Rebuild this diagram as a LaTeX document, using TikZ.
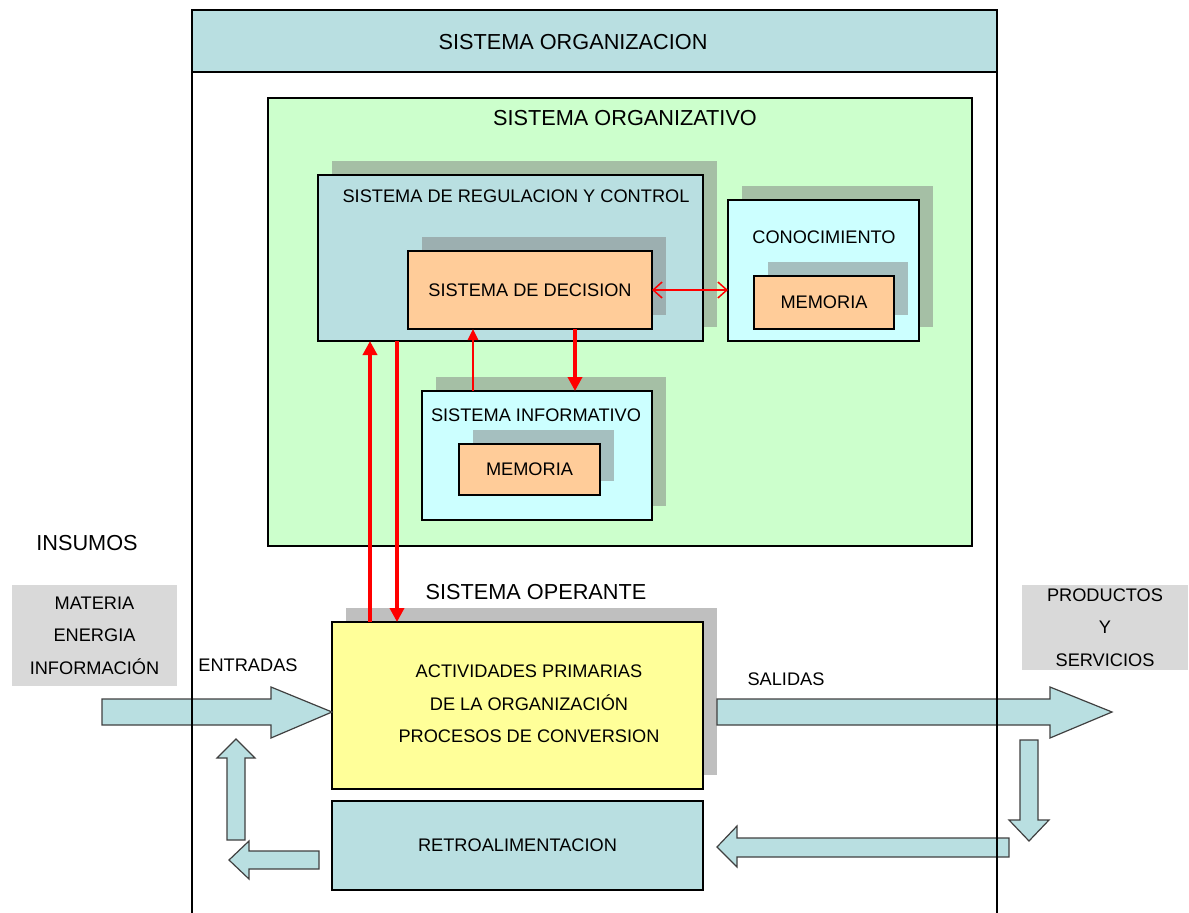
\documentclass[tikz,border=0pt]{standalone}
\usepackage{fontspec}
\setmainfont{Liberation Sans}
\usetikzlibrary{arrows.meta,positioning,shadows,calc}
\definecolor{HeadBlue}{HTML}{B9DFE1}
\definecolor{OrgGreen}{HTML}{CCFFCC}
\definecolor{LightCyan}{HTML}{CCFFFF}
\definecolor{Peach}{HTML}{FFCC99}
\definecolor{PaleYellow}{HTML}{FFFF99}
\definecolor{BoxGray}{HTML}{D9D9D9}

\begin{document}
\begin{tikzpicture}[x=1pt,y=-1pt,>=Latex,
  every node/.style={font=\fontsize{18.2}{22}\selectfont,align=center,inner sep=0pt,outer sep=0pt},
  sysbox/.style={draw,line width=1.5pt,anchor=north west},
  shadowed/.style={general shadow={fill=black!50,fill opacity=0.5,shadow xshift=14pt,shadow yshift=14pt}},
  bigtxt/.style={font=\fontsize{21.7}{26}\selectfont},
  listtxt/.style={font=\fontsize{18.2}{32.5}\selectfont},
  redthick/.style={draw=red,line width=4pt,-{Triangle[length=14pt,width=14pt]}},
  redthin/.style={draw=red,line width=2.5pt,-{Triangle[length=11pt,width=10pt]}},
  redlink/.style={draw=red,line width=1.5pt,{Straight Barb[length=9pt,width=16pt]}-{Straight Barb[length=9pt,width=16pt]}},
  flow/.style={draw=black!75,line width=1.2pt,fill=HeadBlue,line join=miter}]
\useasboundingbox (0,0) rectangle (1189,913);

\node[sysbox,fill=HeadBlue,minimum width=805pt,minimum height=62pt] (orgHead) at (192,10) {};
\node[bigtxt] (orgTitle) at (573,42) {SISTEMA ORGANIZACION};

\node[sysbox,fill=OrgGreen,minimum width=704pt,minimum height=448pt] (organiz) at (268,98) {};
\node[bigtxt] (organizTitle) at (625,118) {SISTEMA ORGANIZATIVO};

\node[sysbox,shadowed,fill=HeadBlue,minimum width=385pt,minimum height=166pt] (regul) at (318,175) {};
\node (regulTitle) at (516,196) {SISTEMA DE REGULACION Y CONTROL};
\node[sysbox,shadowed,fill=Peach,minimum width=244pt,minimum height=78pt] (decis) at (408,251) {SISTEMA DE DECISION};

\node[sysbox,shadowed,fill=LightCyan,minimum width=191pt,minimum height=141pt] (conoc) at (728,200) {};
\node (conocTitle) at (824,237) {CONOCIMIENTO};
\node[sysbox,shadowed,fill=Peach,minimum width=140pt,minimum height=53pt] (memConoc) at (754,276) {MEMORIA};

\node[sysbox,shadowed,fill=LightCyan,minimum width=230pt,minimum height=129pt] (inform) at (422,391) {};
\node (informTitle) at (536,415) {SISTEMA INFORMATIVO};
\node[sysbox,shadowed,fill=Peach,minimum width=141pt,minimum height=51pt] (memInform) at (459,444) {MEMORIA};

\node[bigtxt] (operTitle) at (536,592) {SISTEMA OPERANTE};
\node[sysbox,shadowed,fill=PaleYellow,minimum width=371pt,minimum height=167pt] (oper) at (332,622) {};
\node[listtxt] (operText) at (529,704) {ACTIVIDADES PRIMARIAS\\DE LA ORGANIZACIÓN\\PROCESOS DE CONVERSION};
\node[sysbox,fill=HeadBlue,minimum width=371pt,minimum height=89pt] (retro) at (332,801) {RETROALIMENTACION};

\node[bigtxt] (insumos) at (87,543) {INSUMOS};
\node[anchor=north west,fill=BoxGray,listtxt,minimum width=165pt,minimum height=101pt] (inputs) at (12,585) {MATERIA\\ENERGIA\\INFORMACIÓN};
\node[anchor=north west,fill=BoxGray,listtxt,minimum width=166pt,minimum height=85pt] (outputs) at (1022,585) {PRODUCTOS\\Y\\SERVICIOS};
\node (entradas) at (248,665) {ENTRADAS};
\node (salidas) at (786,679) {SALIDAS};

\draw[flow] (102,699) -- (271,699) -- (271,687) -- (332,712) -- (271,738) -- (271,725) -- (102,725) -- cycle;
\draw[flow] (717,699) -- (1050,699) -- (1050,687) -- (1112,712) -- (1050,738) -- (1050,725) -- (717,725) -- cycle;
\draw[flow] (1020,740) -- (1038,740) -- (1038,820) -- (1049,820) -- (1029,841) -- (1009,820) -- (1020,820) -- cycle;
\draw[flow] (1009,838) -- (737,838) -- (737,826) -- (717,847) -- (737,867) -- (737,857) -- (1009,857) -- cycle;
\draw[flow] (319,851) -- (249,851) -- (249,841) -- (229,860) -- (249,879) -- (249,869) -- (319,869) -- cycle;
\draw[flow] (227,840) -- (227,758) -- (217,758) -- (236,739) -- (255,758) -- (245,758) -- (245,840) -- cycle;

\draw[redthick] ([xshift=38pt]oper.north west) -- ([xshift=52pt]regul.south west);
\draw[redthick] ([xshift=79pt]regul.south west) -- ([xshift=65pt]oper.north west);
\draw[redthin] ([xshift=51pt]inform.north west) -- ([xshift=65pt]decis.south west);
\draw[redthick] ([xshift=167pt]decis.south west) -- ([xshift=153pt]inform.north west);
\draw[redlink] (decis.east) -- (decis.east -| conoc.west);

\coordinate (frameL) at (192,913);
\coordinate (frameR) at (997,913);
\draw[line width=1.5pt] (orgHead.south west) -- (frameL);
\draw[line width=1.5pt] (orgHead.south east) -- (frameR);
\end{tikzpicture}
\end{document}
